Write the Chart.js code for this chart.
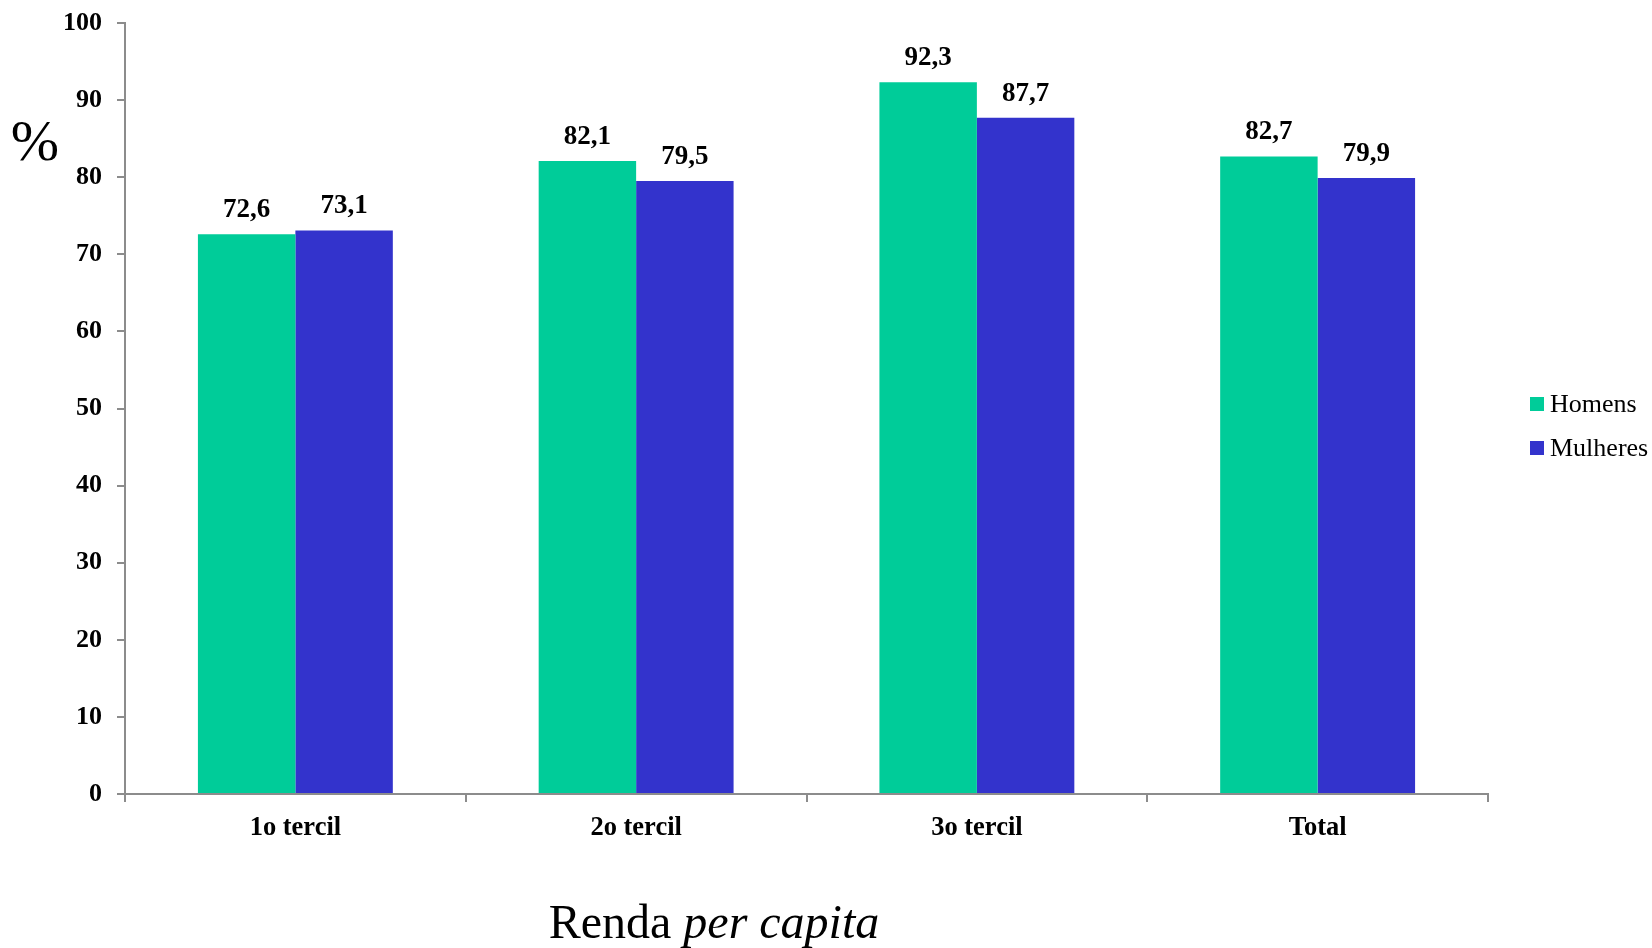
<!DOCTYPE html>
<html>
<head>
<meta charset="utf-8">
<script src="https://cdn.jsdelivr.net/npm/chart.js@4"></script>
<style>
  html, body { margin: 0; padding: 0; background: #fff; }
  canvas { display: block; }
</style>
</head>
<body>
<canvas id="chart" width="1652" height="948"></canvas>
<script>
var categories = ['1o tercil', '2o tercil', '3o tercil', 'Total'];
var homens = [72.6, 82.1, 92.3, 82.7];
var mulheres = [73.1, 79.5, 87.7, 79.9];
var seriesNames = ['Homens', 'Mulheres'];
var yTicks = [0, 10, 20, 30, 40, 50, 60, 70, 80, 90, 100];

var GREEN = '#00CC99';
var BLUE = '#3333CC';
var AXIS = '#8c8c8c';
var SERIF = '"Liberation Serif", "Times New Roman", serif';

// labels on bars, legend, "%" and the bottom title
var extras = {
  id: 'extras',
  afterDatasetsDraw: function(chart) {
    var ctx = chart.ctx;
    ctx.save();
    ctx.fillStyle = '#000';
    ctx.font = 'bold 27px ' + SERIF;
    ctx.textAlign = 'center';
    ctx.textBaseline = 'alphabetic';
    chart.data.datasets.forEach(function(ds, i) {
      chart.getDatasetMeta(i).data.forEach(function(bar, j) {
        ctx.fillText(ds.data[j].toFixed(1).replace('.', ','), bar.x, bar.y - 17);
      });
    });

    // legend
    var colors = [GREEN, BLUE];
    ctx.font = '26px ' + SERIF;
    ctx.textAlign = 'left';
    ctx.textBaseline = 'middle';
    seriesNames.forEach(function(name, i) {
      var y = 404 + i * 44;
      ctx.fillStyle = colors[i];
      ctx.fillRect(1530, y - 7, 14, 14);
      ctx.fillStyle = '#000';
      ctx.fillText(name, 1550, y + 1);
    });

    // % sign
    ctx.font = '58px ' + SERIF;
    ctx.textAlign = 'center';
    ctx.fillText('%', 35, 145);

    // x title, with "per capita" in italics
    var a = 'Renda ', b = 'per capita';
    ctx.font = '48px ' + SERIF;
    var wa = ctx.measureText(a).width;
    ctx.font = 'italic 48px ' + SERIF;
    var wb = ctx.measureText(b).width;
    var x0 = 714 - (wa + wb) / 2;
    ctx.textAlign = 'left';
    ctx.textBaseline = 'alphabetic';
    ctx.font = '48px ' + SERIF;
    ctx.fillText(a, x0, 938);
    ctx.font = 'italic 48px ' + SERIF;
    ctx.fillText(b, x0 + wa, 938);
    ctx.restore();
  }
};

new Chart(document.getElementById('chart').getContext('2d'), {
  type: 'bar',
  data: {
    labels: categories,
    datasets: [
      { label: seriesNames[0], data: homens, backgroundColor: GREEN, borderWidth: 0 },
      { label: seriesNames[1], data: mulheres, backgroundColor: BLUE, borderWidth: 0 }
    ]
  },
  options: {
    responsive: false,
    animation: false,
    devicePixelRatio: 1,
    layout: { padding: { left: 0, right: 164, top: 23, bottom: 0 } },
    categoryPercentage: 0.572,
    barPercentage: 1,
    plugins: {
      legend: { display: false },
      tooltip: { enabled: false }
    },
    scales: {
      x: {
        afterFit: function(scale) {
          scale.height = 154;
          scale.paddingLeft = 0;
          scale.paddingRight = 0;
        },
        grid: { offset: true, drawOnChartArea: false, drawTicks: true, tickLength: 8, color: AXIS, lineWidth: 2 },
        border: { display: true, color: AXIS, width: 2 },
        ticks: { color: '#000', font: { family: SERIF, size: 26.5, weight: 'bold' }, padding: 10 }
      },
      y: {
        min: 0,
        max: 100,
        afterFit: function(scale) {
          scale.width = 125;
          scale.paddingTop = 0;
          scale.paddingBottom = 0;
        },
        afterBuildTicks: function(scale) {
          scale.ticks = yTicks.map(function(v) { return { value: v }; });
        },
        grid: { drawOnChartArea: false, drawTicks: true, tickLength: 8, color: AXIS, lineWidth: 2 },
        border: { display: true, color: AXIS, width: 2 },
        ticks: { color: '#000', font: { family: SERIF, size: 26, weight: 'bold' }, padding: 15 }
      }
    }
  },
  plugins: [extras]
});
</script>
</body>
</html>
